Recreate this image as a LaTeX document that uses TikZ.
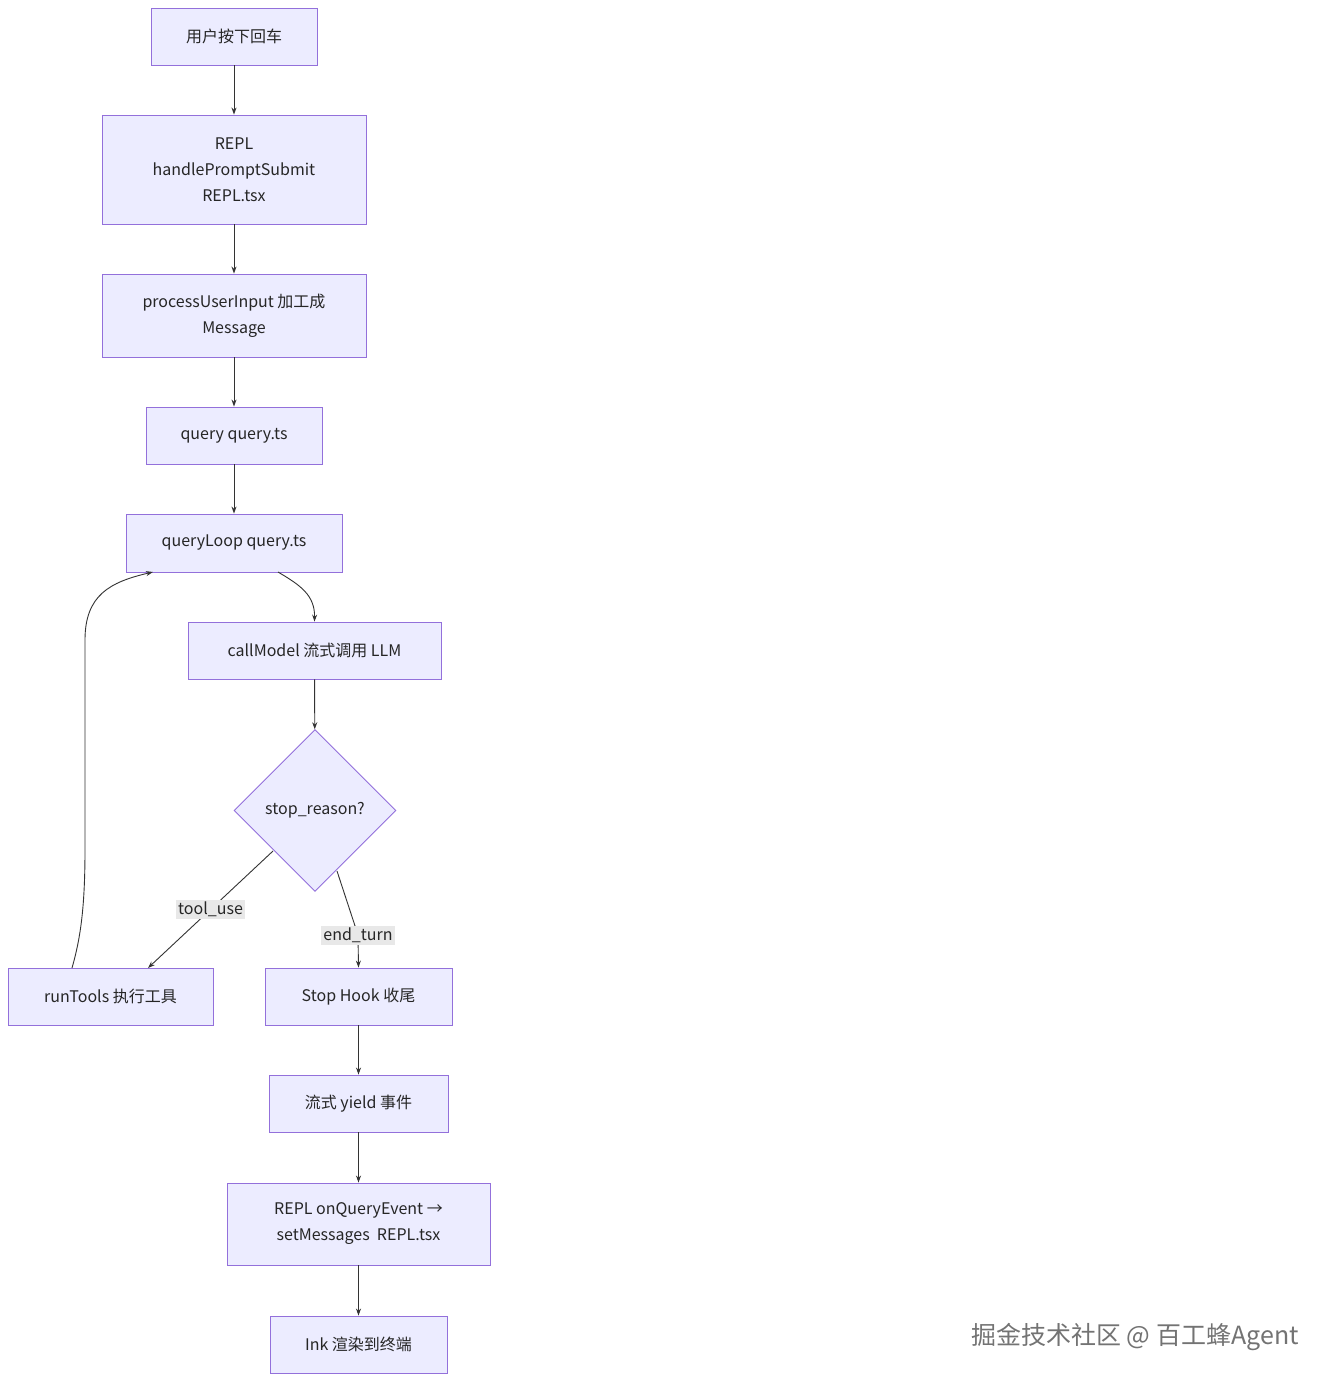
\documentclass[tikz,border=0pt]{standalone}
\usepackage{fontspec}
\setmainfont{Noto Sans CJK SC}
\usetikzlibrary{shapes.geometric,arrows.meta}
\definecolor{nfill}{HTML}{ECECFF}
\definecolor{nline}{HTML}{9370DB}
\definecolor{eline}{HTML}{333333}
\definecolor{lbg}{HTML}{E8E8E8}
\begin{document}
\begin{tikzpicture}[x=1pt,y=-1pt,
 box/.style={draw=nline,fill=nfill,line width=0.9pt,rectangle,align=center,inner sep=0pt,text=black!85,font=\fontsize{16}{26}\selectfont},
 dia/.style={draw=nline,fill=nfill,line width=0.9pt,diamond,inner sep=0pt,aspect=1,minimum size=162pt,font=\fontsize{16}{26}\selectfont,text=black!85},
 edge/.style={draw=eline,line width=0.9pt,-{Stealth[length=7pt,width=5pt]}},
 lbl/.style={fill=lbg,inner sep=2pt,font=\fontsize{16}{20}\selectfont,text=black!85}]
\useasboundingbox[fill=white] (0,0) rectangle (1336,1387);
\node[box,minimum width=166pt,minimum height=57pt] (n1) at (234,36.5) {用户按下回车};
\node[box,minimum width=264pt,minimum height=109pt] (n2) at (234,169.5) {REPL\\handlePromptSubmit\\REPL.tsx};
\node[box,minimum width=264pt,minimum height=83pt] (n3) at (234,315.5) {processUserInput 加工成\\Message};
\node[box,minimum width=176pt,minimum height=57pt] (n4) at (234,435.5) {query query.ts};
\node[box,minimum width=216pt,minimum height=58pt] (n5) at (234,543) {queryLoop query.ts};
\node[box,minimum width=253pt,minimum height=57pt] (n6) at (314.5,650.5) {callModel 流式调用 LLM};
\node[dia] (d) at (315,810.5) {stop\_reason?};
\node[box,minimum width=205pt,minimum height=57pt] (rt) at (110.5,996.5) {runTools 执行工具};
\node[box,minimum width=187pt,minimum height=57pt] (sh) at (358.5,996.5) {Stop Hook 收尾};
\node[box,minimum width=179pt,minimum height=57pt] (y) at (358.5,1103.5) {流式 yield 事件};
\node[box,minimum width=263pt,minimum height=82pt] (r) at (358.5,1224) {REPL onQueryEvent →\\setMessages\ \ REPL.tsx};
\node[box,minimum width=177pt,minimum height=57pt] (ink) at (358.5,1344.5) {Ink 渲染到终端};
\draw[edge] (n1) -- (n2);
\draw[edge] (n2) -- (n3);
\draw[edge] (n3) -- (n4);
\draw[edge] (n4) -- (n5);
\draw[edge] (278,572) .. controls (300,585) and (315,595) .. (n6.north);
\draw[edge] (n6) -- (d);
\draw[edge] (273,851) -- node[lbl,pos=0.5]{tool\_use} (148,968);
\draw[edge] (337,871) -- (358,935) -- node[lbl,pos=0]{end\_turn} (sh.north);
\draw[edge] (72,968) .. controls (80,940) and (85,910) .. (85,850) -- (85,640) .. controls (85,595) and (110,582) .. (153,572);
\draw[edge] (sh) -- (y);
\draw[edge] (y) -- (r);
\draw[edge] (r) -- (ink);
\node[font=\fontsize{25}{30}\selectfont,text=black!55] (wm) at (1135,1337) {掘金技术社区 @ 百工蜂Agent};
\end{tikzpicture}
\end{document}
